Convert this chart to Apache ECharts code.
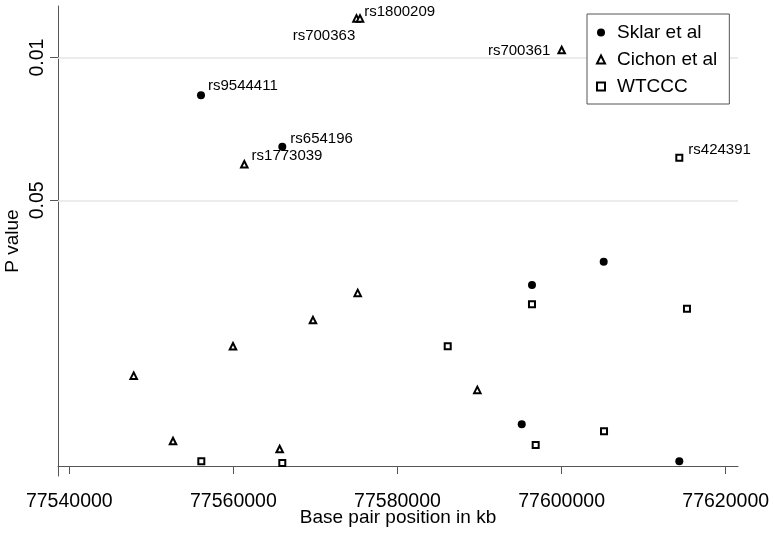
<!DOCTYPE html>
<html>
<head>
<meta charset="utf-8">
<script src="https://cdn.jsdelivr.net/npm/echarts@6/dist/echarts.min.js"></script>
<style>html,body{margin:0;padding:0;background:#fff}#c{width:774px;height:534px}</style>
</head>
<body>
<div id="c"></div>
<script>
// Base pair positions and P values
const sklarPos = [77556050, 77565960, 77596390, 77605130, 77595140, 77614345];
const sklarP   = [0.0153, 0.0273, 0.130, 0.0999, 0.625, 0.948];
const sklarSnp = ['rs9544411', 'rs654196', '', '', '', ''];

const cichonPos = [77547850, 77552640, 77559950, 77565640, 77569700, 77575150, 77589730, 77561330, 77575000, 77575430, 77600010];
const cichonP   = [0.361, 0.754, 0.259, 0.825, 0.193, 0.142, 0.424, 0.0333, 0.00643, 0.00643, 0.00918];
const cichonSnp = ['', '', '', '', '', '', '', 'rs1773039', 'rs700363', 'rs1800209', 'rs700361'];

const wtcccPos = [77556090, 77565960, 77586120, 77596390, 77596840, 77605170, 77615280, 77614345];
const wtcccP   = [0.948, 0.967, 0.259, 0.1615, 0.789, 0.676, 0.1697, 0.0309];
const wtcccSnp = ['', '', '', '', '', '', '', 'rs424391'];

const seriesNames = ['Sklar et al', 'Cichon et al', 'WTCCC'];
const xTicks = [77540000, 77560000, 77580000, 77600000, 77620000];
const yTicks = [0.01, 0.05];
const xRange = [77538623, 77621499];
const yRangeP = [0.00559, 1.1194];

// label placement (style only)
const labelPlace = {
  rs9544411: {position: 'right', offset: [3, -9]},
  rs654196:  {position: 'right', offset: [4, -8]},
  rs1773039: {position: 'right', offset: [3, -8]},
  rs424391:  {position: 'right', offset: [5, -8]},
  rs1800209: {position: 'right', offset: [0, -7]},
  rs700363:  {position: 'left',  offset: [3, 17]},
  rs700361:  {position: 'left',  offset: [-7, 1]}
};

const FONT = '"Liberation Sans", Arial, Helvetica, sans-serif';
const lg = v => Math.log10(v);

function build(pos, p, snp) {
  return pos.map((x, i) => {
    const item = {value: [x, lg(p[i])], name: snp[i]};
    if (snp[i]) {
      const pl = labelPlace[snp[i]];
      item.label = {show: true, formatter: '{b}', position: pl.position, offset: pl.offset,
        distance: 0, color: '#000', fontSize: 15, fontFamily: FONT};
    }
    return item;
  });
}

const chart = echarts.init(document.getElementById('c'), null, {renderer: 'canvas'});
const option = {
  animation: false,
  backgroundColor: '#fff',
  textStyle: {fontFamily: FONT, color: '#000'},
  grid: {left: 58, right: 36, top: 6, bottom: 58, containLabel: false, outerBoundsMode: 'none'},
  legend: {
    data: seriesNames,
    orient: 'vertical',
    left: 587, top: 14,
    padding: [9, 12, 8, 9],
    itemWidth: 8, itemHeight: 8, itemGap: 8,
    borderColor: '#555', borderWidth: 1, backgroundColor: '#fff',
    textStyle: {fontSize: 19, color: '#000', fontFamily: FONT, padding: [0, 0, 0, 7]}
  },
  xAxis: {
    type: 'value', min: xRange[0], max: xRange[1],
    name: 'Base pair position in kb', nameLocation: 'middle', nameGap: 32, nameMoveOverlap: false,
    nameTextStyle: {fontSize: 19, color: '#000', fontFamily: FONT},
    axisLine: {show: true, lineStyle: {color: '#555', width: 1}},
    axisTick: {show: true, customValues: xTicks, length: 8, lineStyle: {color: '#555'}},
    axisLabel: {customValues: xTicks, fontSize: 19.5, color: '#000', margin: 16, fontFamily: FONT, formatter: v => String(Math.round(v))},
    splitLine: {show: false}
  },
  yAxis: {
    type: 'value', inverse: true, min: lg(yRangeP[0]), max: lg(yRangeP[1]),
    name: 'P value', nameLocation: 'middle', nameGap: 36, nameRotate: 90, nameMoveOverlap: false,
    nameTextStyle: {fontSize: 19, color: '#000', fontFamily: FONT},
    axisLine: {show: true, lineStyle: {color: '#555', width: 1}},
    axisTick: {show: true, customValues: yTicks.map(lg), length: 8, lineStyle: {color: '#555'}},
    axisLabel: {customValues: yTicks.map(lg), rotate: 90, fontSize: 19.5, color: '#000', margin: 10, fontFamily: FONT,
      formatter: v => { let best = yTicks[0]; yTicks.forEach(t => { if (Math.abs(lg(t) - v) < Math.abs(lg(best) - v)) best = t; }); return String(best); }},
    splitLine: {show: false}
  },
  series: [
    {
      name: seriesNames[0], type: 'scatter', symbol: 'circle', symbolSize: 8,
      itemStyle: {color: '#000', opacity: 1},
      data: build(sklarPos, sklarP, sklarSnp),
      markLine: {
        silent: true, symbol: 'none', z: 1,
        label: {show: false},
        lineStyle: {color: '#e6e6e6', width: 1.5, type: 'solid'},
        data: yTicks.map(t => ({yAxis: lg(t)}))
      }
    },
    {
      name: seriesNames[1], type: 'scatter', symbol: 'triangle', symbolSize: 6.5,
      itemStyle: {color: '#fff', borderColor: '#000', borderWidth: 2, opacity: 1},
      data: build(cichonPos, cichonP, cichonSnp)
    },
    {
      name: seriesNames[2], type: 'scatter', symbol: 'rect', symbolSize: 6,
      itemStyle: {color: '#fff', borderColor: '#000', borderWidth: 2, opacity: 1},
      data: build(wtcccPos, wtcccP, wtcccSnp)
    }
  ]
};
chart.setOption(option);
</script>
</body>
</html>
